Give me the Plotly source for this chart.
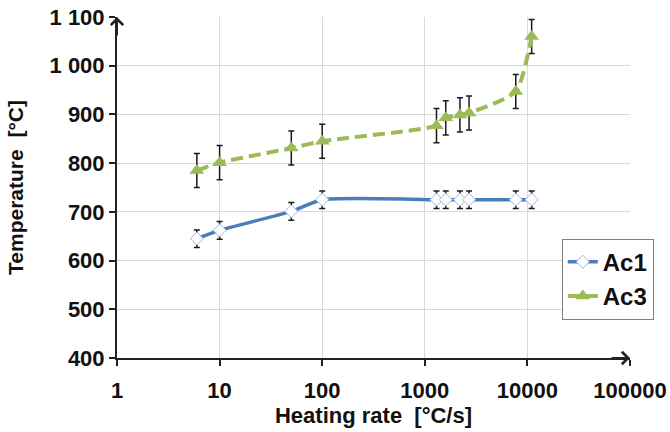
import plotly.graph_objects as go

# Data
heating_rate = [6, 10, 50, 100, 1300, 1600, 2200, 2700, 7700, 11000]
ac1_temp = [645, 662, 701, 725, 725, 725, 725, 725, 725, 725]
ac1_err = [18, 18, 18, 18, 18, 18, 18, 18, 18, 18]
ac3_temp = [785, 801, 831, 845, 877, 893, 899, 903, 947, 1060]
ac3_err = [35, 35, 35, 35, 35, 35, 35, 35, 35, 35]

x_tickvals = [1, 10, 100, 1000, 10000, 100000]
x_ticktext = ["1", "10", "100", "1000", "10000", "100000"]
y_tickvals = [400, 500, 600, 700, 800, 900, 1000, 1100]
y_ticktext = ["400", "500", "600", "700", "800", "900", "1 000", "1 100"]

BLUE = "#4A7EBB"
GREEN = "#9BBB59"
FONT = "Liberation Sans"

fig = go.Figure()
fig.add_trace(go.Scatter(
    x=heating_rate, y=ac1_temp, name="Ac1", mode="lines+markers",
    line=dict(color=BLUE, width=3.5, shape="spline", smoothing=0.6),
    marker=dict(symbol="diamond", size=10, color="white",
                line=dict(color="#9DB9DC", width=1)),
    error_y=dict(type="data", array=ac1_err, color="#1a1a1a", thickness=1.5, width=3),
))
fig.add_trace(go.Scatter(
    x=heating_rate, y=ac3_temp, name="Ac3", mode="lines+markers",
    line=dict(color=GREEN, width=4, dash="12px,6px", shape="spline", smoothing=0.6),
    marker=dict(symbol="triangle-up", size=13, color=GREEN),
    error_y=dict(type="data", array=ac3_err, color="#1a1a1a", thickness=1.5, width=3),
))

fig.update_layout(
    width=670, height=432,
    margin=dict(l=117, r=40, t=17, b=74, autoexpand=False),
    paper_bgcolor="white", plot_bgcolor="white",
    font=dict(family=FONT, color="#111111"),
    legend=dict(
        x=0.867, y=0.35, xanchor="left", yanchor="top",
        bgcolor="white", bordercolor="#7f7f7f", borderwidth=1,
        font=dict(family=FONT, size=24, weight="bold", color="#111111"),
        itemwidth=30, tracegroupgap=0,
    ),
    showlegend=True,
)
fig.update_xaxes(
    type="log", range=[0, 5], automargin=False,
    tickvals=x_tickvals, ticktext=x_ticktext,
    showgrid=True, gridcolor="#d9d9d9", gridwidth=1,
    showline=True, linecolor="#222222", linewidth=2,
    ticks="outside", ticklen=6, tickwidth=1.5, tickcolor="#222222",
    ticklabelstandoff=6, ticklabeloverflow="allow",
    tickfont=dict(family=FONT, size=22, weight="bold", color="#111111"),
    title=dict(text="Heating rate  [°C/s]", standoff=0,
               font=dict(family=FONT, size=22, weight="bold", color="#111111")),
    zeroline=False,
)
fig.update_yaxes(
    range=[400, 1100], automargin=False,
    tickvals=y_tickvals, ticktext=y_ticktext,
    showgrid=True, gridcolor="#d9d9d9", gridwidth=1,
    showline=True, linecolor="#222222", linewidth=2,
    ticks="outside", ticklen=6, tickwidth=1.5, tickcolor="#222222",
    ticklabeloverflow="allow",
    tickfont=dict(family=FONT, size=22, weight="bold", color="#111111"),
    title=dict(text="Temperature  [°C]", standoff=20,
               font=dict(family=FONT, size=21, weight="bold", color="#111111")),
    zeroline=False,
)

# axis arrows
fig.add_annotation(xref="paper", yref="paper", x=0, y=1, ax=0, ay=20,
                   text="", showarrow=True, arrowhead=4, arrowsize=1.2,
                   arrowwidth=2, arrowcolor="#222222", standoff=0)
fig.add_annotation(xref="paper", yref="paper", x=1, y=0, ax=-20, ay=0,
                   text="", showarrow=True, arrowhead=4, arrowsize=1.2,
                   arrowwidth=2, arrowcolor="#222222", standoff=0)

fig.write_html("out.html",
               config={"displayModeBar": False},
               post_script="document.body.style.margin='0';document.body.style.overflow='hidden';")
